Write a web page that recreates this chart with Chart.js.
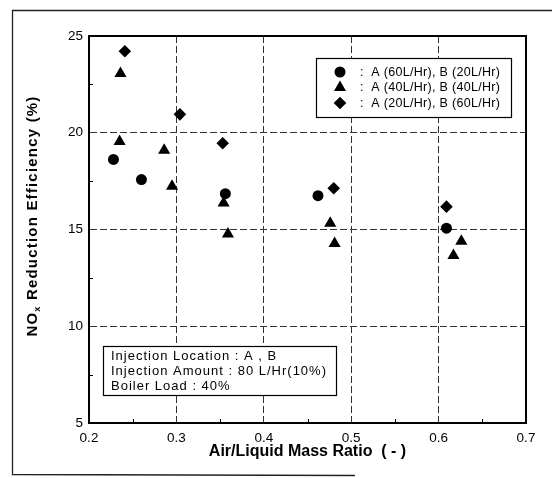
<!DOCTYPE html>
<html>
<head>
<meta charset="utf-8">
<script src="https://cdn.jsdelivr.net/npm/chart.js@4.4.1/dist/chart.umd.min.js"></script>
<style>
  body { margin: 0; background: #fff; }
  canvas { display: block; }
</style>
</head>
<body>
<canvas id="myChart" width="552" height="478"></canvas>
<script>
  // tick values
  const xTicks = [0.2, 0.3, 0.4, 0.5, 0.6, 0.7];
  const yTicks = [5, 10, 15, 20, 25];

  // A (60L/Hr), B (20L/Hr)
  const circleX = [0.228, 0.260, 0.356, 0.462, 0.609];
  const circleY = [18.62, 17.58, 16.85, 16.75, 15.07];
  // A (40L/Hr), B (40L/Hr)
  const triX = [0.236, 0.235, 0.286, 0.295, 0.354, 0.359, 0.476, 0.481, 0.617, 0.626];
  const triY = [23.06, 19.55, 19.10, 17.23, 16.37, 14.77, 15.32, 14.28, 13.66, 14.39];
  // A (20L/Hr), B (60L/Hr)
  const diaX = [0.241, 0.304, 0.353, 0.480, 0.609];
  const diaY = [24.21, 20.95, 19.46, 17.13, 16.18];

  const seriesLabels = ["A (60L/Hr), B (20L/Hr)", "A (40L/Hr), B (40L/Hr)", "A (20L/Hr), B (60L/Hr)"];
  const noteLines = ["Injection Location : A , B", "Injection Amount : 80 L/Hr(10%)", "Boiler Load : 40%"];

  const FONT = "'Liberation Sans', Arial, sans-serif";

  function pts(xs, ys) {
    return xs.map((x, i) => ({ x: x, y: ys[i] }));
  }

  function marker(ctx, style, r, x, y) {
    ctx.save();
    ctx.fillStyle = "#000";
    ctx.beginPath();
    if (style === "circle") {
      ctx.arc(x, y, r, 0, Math.PI * 2);
    } else if (style === "triangle") {
      ctx.moveTo(x, y - r);
      ctx.lineTo(x + Math.sin(Math.PI * 2 / 3) * r, y + r / 2);
      ctx.lineTo(x - Math.sin(Math.PI * 2 / 3) * r, y + r / 2);
    } else {
      ctx.moveTo(x, y - r);
      ctx.lineTo(x + r, y);
      ctx.lineTo(x, y + r);
      ctx.lineTo(x - r, y);
    }
    ctx.closePath();
    ctx.fill();
    ctx.restore();
  }

  const decor = {
    id: "decor",
    beforeDraw(chart) {
      const ctx = chart.ctx;
      ctx.save();
      ctx.strokeStyle = "#222";
      ctx.lineWidth = 1.3;
      ctx.beginPath();
      ctx.moveTo(552, 10.5);
      ctx.lineTo(12.5, 10.5);
      ctx.lineTo(12.5, 474.5);
      ctx.lineTo(355, 475.5);
      ctx.stroke();
      ctx.restore();
    },
    afterDatasetsDraw(chart) {
      const ctx = chart.ctx;
      const a = chart.chartArea;
      const xs = chart.scales.x, ys = chart.scales.y;
      ctx.save();
      // plot frame
      ctx.strokeStyle = "#000";
      ctx.lineWidth = 2;
      ctx.strokeRect(a.left, a.top, a.right - a.left, a.bottom - a.top);
      // minor ticks
      ctx.lineWidth = 1;
      ctx.beginPath();
      for (let i = 0; i < yTicks.length - 1; i++) {
        const py = Math.round(ys.getPixelForValue((yTicks[i] + yTicks[i + 1]) / 2)) + 0.5;
        ctx.moveTo(a.left, py); ctx.lineTo(a.left + 4, py);
      }
      for (let i = 0; i < xTicks.length - 1; i++) {
        const px = Math.round(xs.getPixelForValue((xTicks[i] + xTicks[i + 1]) / 2)) + 0.5;
        ctx.moveTo(px, a.bottom); ctx.lineTo(px, a.bottom - 4);
      }
      ctx.stroke();

      // legend box
      ctx.fillStyle = "#fff";
      ctx.fillRect(316, 58, 195, 59);
      ctx.lineWidth = 1.2;
      ctx.strokeRect(316.5, 58.5, 195, 59);
      ctx.fillStyle = "#000";
      ctx.font = "12.5px " + FONT;
      ctx.letterSpacing = "0.3px";
      ctx.textBaseline = "middle";
      ctx.textAlign = "left";
      chart.data.datasets.forEach((ds, i) => {
        const ly = 72 + i * 15.5;
        marker(ctx, ds.pointStyle, ds.pointStyle === "triangle" ? 7 : (ds.pointStyle === "circle" ? 5.5 : 6.3), 340, ly);
        ctx.fillText(":  " + ds.label, 360, ly + 0.5);
      });

      // note box
      ctx.fillStyle = "#fff";
      ctx.fillRect(103, 346, 233, 49);
      ctx.strokeRect(103.5, 346.5, 233, 49);
      ctx.fillStyle = "#000";
      ctx.font = "13px " + FONT;
      ctx.letterSpacing = "1px";
      noteLines.forEach((t, i) => {
        ctx.fillText(t, 111, 356 + i * 15);
      });

      // y axis title with subscript
      ctx.translate(33, 216);
      ctx.rotate(-Math.PI / 2);
      ctx.font = "bold 15px " + FONT;
      ctx.letterSpacing = "1.2px";
      const p1 = "NO", p2 = " Reduction Efficiency (%)";
      const w1 = ctx.measureText(p1).width;
      ctx.font = "bold 9px " + FONT;
      const wx = ctx.measureText("x").width;
      ctx.font = "bold 15px " + FONT;
      const w2 = ctx.measureText(p2).width;
      let sx = -(w1 + wx + w2) / 2;
      ctx.fillText(p1, sx, 0);
      ctx.font = "bold 9px " + FONT;
      ctx.fillText("x", sx + w1, 5);
      ctx.font = "bold 15px " + FONT;
      ctx.fillText(p2, sx + w1 + wx, 0);
      ctx.restore();
    }
  };

  const gridColor = (c) => {
    const v = c.tick ? c.tick.value : null;
    return "#333";
  };

  const config = {
    type: "scatter",
    data: {
      datasets: [
        {
          label: seriesLabels[0],
          data: pts(circleX, circleY),
          pointStyle: "circle",
          pointRadius: 5.5,
          backgroundColor: "#000",
          borderColor: "#000",
          borderWidth: 0
        },
        {
          label: seriesLabels[1],
          data: pts(triX, triY),
          pointStyle: "triangle",
          pointRadius: 7,
          backgroundColor: "#000",
          borderColor: "#000",
          borderWidth: 0
        },
        {
          label: seriesLabels[2],
          data: pts(diaX, diaY),
          pointStyle: "rectRot",
          pointRadius: 6.3,
          backgroundColor: "#000",
          borderColor: "#000",
          borderWidth: 0
        }
      ]
    },
    options: {
      responsive: false,
      animation: false,
      events: [],
      layout: { padding: { top: 36, right: 26, left: 0, bottom: 0 } },
      plugins: {
        legend: { display: false },
        tooltip: { enabled: false }
      },
      scales: {
        x: {
          type: "linear",
          min: 0.2,
          max: 0.7,
          afterBuildTicks: (s) => { s.ticks = xTicks.map(v => ({ value: v })); },
          afterFit: (s) => { s.height = 55; },
          ticks: {
            callback: (v) => Number(v).toFixed(1),
            color: "#000",
            font: { family: FONT, size: 13.5 },
            padding: 7,
            maxRotation: 0
          },
          grid: {
            drawTicks: false,
            color: (c) => (c.tick && (c.tick.value === 0.2 || c.tick.value === 0.7)) ? "rgba(0,0,0,0)" : "#333",
            lineWidth: 1
          },
          border: { display: true, color: "#000", width: 2, dash: [] },
          title: {
            display: true,
            text: "Air/Liquid Mass Ratio  ( - )",
            color: "#000",
            font: { family: FONT, size: 16, weight: "bold" },
            padding: { top: 0, bottom: 17 }
          }
        },
        y: {
          type: "linear",
          min: 5,
          max: 25,
          afterBuildTicks: (s) => { s.ticks = yTicks.map(v => ({ value: v })); },
          afterFit: (s) => { s.width = 89; },
          ticks: {
            color: "#000",
            font: { family: FONT, size: 13.5 },
            padding: 6
          },
          grid: {
            drawTicks: false,
            color: (c) => (c.tick && (c.tick.value === 5 || c.tick.value === 25)) ? "rgba(0,0,0,0)" : "#333",
            lineWidth: 1
          },
          border: { display: true, color: "#000", width: 2 }
        }
      }
    },
    plugins: [decor]
  };

  // dashed grid
  config.options.scales.x.border.dash = [7, 3];
  config.options.scales.y.border.dash = [7, 3];

  var myChart = new Chart(document.getElementById("myChart"), config);
</script>
</body>
</html>
